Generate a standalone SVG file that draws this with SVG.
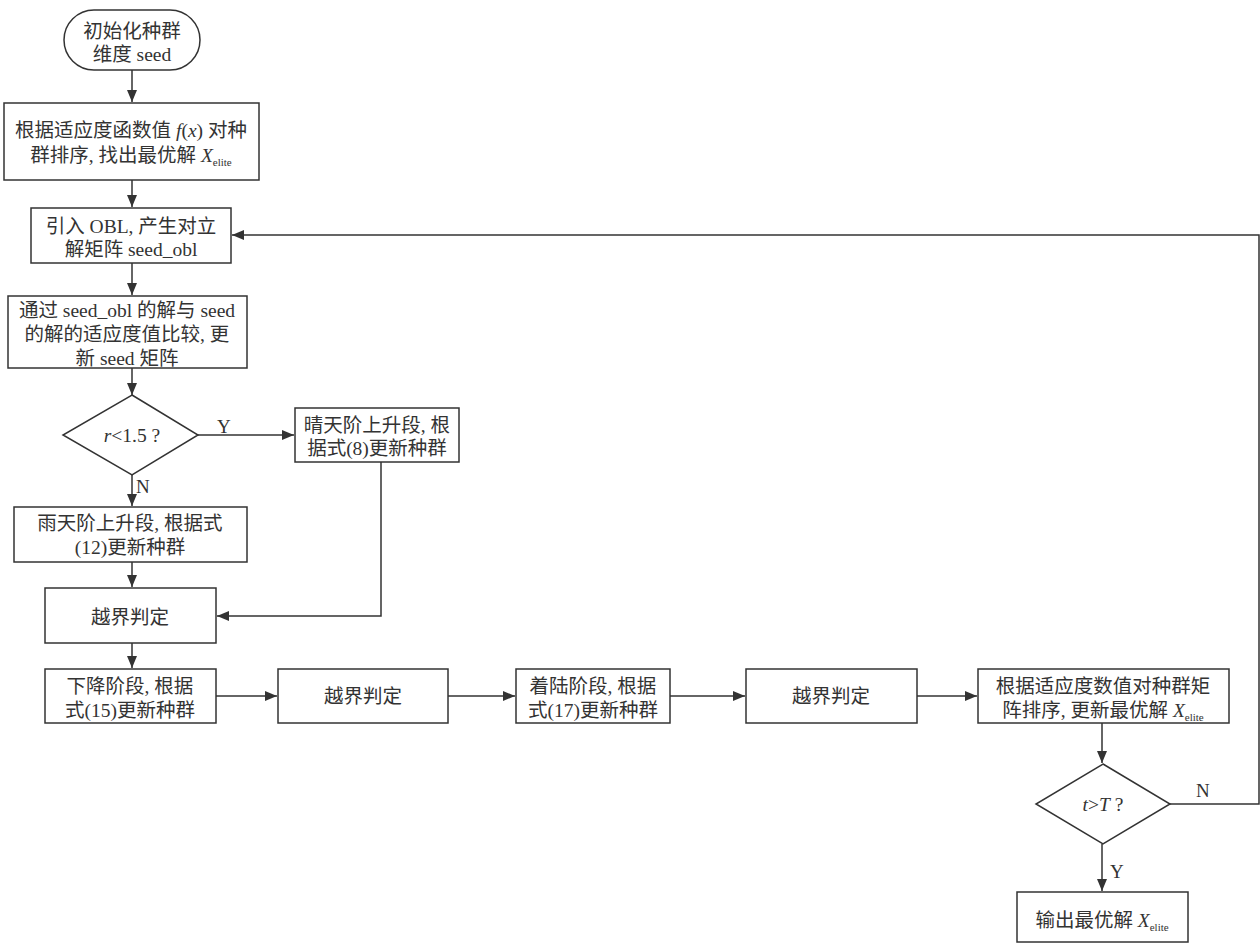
<svg xmlns="http://www.w3.org/2000/svg" width="1260" height="945" viewBox="0 0 1260 945">
<defs>
<marker id="ah" markerUnits="userSpaceOnUse" markerWidth="13" markerHeight="11" refX="12" refY="5" orient="auto">
<path d="M0,0 L12,5 L0,10 z" fill="#333"/>
</marker>
<style>
.n{fill:#fff;stroke:#333;stroke-width:1.5}
.t{font-family:"Liberation Serif","Noto Sans CJK SC",serif;font-size:19.5px;fill:#333;text-anchor:middle}
.l{font-family:"Liberation Serif",serif;font-size:19px;fill:#333}
.c{fill:none;stroke:#333;stroke-width:1.5}
.s{font-size:11px;font-style:normal}
</style>
</defs>
<rect width="1260" height="945" fill="#fff"/>
<g id="connectors">
<line class="c" x1="132" y1="70" x2="132" y2="102" marker-end="url(#ah)"/>
<line class="c" x1="132" y1="180" x2="132" y2="207" marker-end="url(#ah)"/>
<line class="c" x1="132" y1="263" x2="132" y2="295" marker-end="url(#ah)"/>
<line class="c" x1="132" y1="368" x2="132" y2="395" marker-end="url(#ah)"/>
<line class="c" x1="198" y1="435" x2="294" y2="435" marker-end="url(#ah)"/>
<line class="c" x1="132" y1="475" x2="132" y2="506" marker-end="url(#ah)"/>
<polyline class="c" points="381,462 381,616 217,616" marker-end="url(#ah)"/>
<line class="c" x1="132" y1="562" x2="132" y2="587" marker-end="url(#ah)"/>
<line class="c" x1="132" y1="643" x2="132" y2="668" marker-end="url(#ah)"/>
<line class="c" x1="216" y1="696" x2="277" y2="696" marker-end="url(#ah)"/>
<line class="c" x1="448" y1="696" x2="515" y2="696" marker-end="url(#ah)"/>
<line class="c" x1="670" y1="696" x2="745" y2="696" marker-end="url(#ah)"/>
<line class="c" x1="917" y1="696" x2="977" y2="696" marker-end="url(#ah)"/>
<line class="c" x1="1102" y1="723" x2="1102" y2="763" marker-end="url(#ah)"/>
<line class="c" x1="1102" y1="844" x2="1102" y2="891" marker-end="url(#ah)"/>
<polyline class="c" points="1170,804 1259,804 1259,235 232,235" marker-end="url(#ah)"/>
<text class="l" x="217" y="433">Y</text>
<text class="l" x="136" y="493">N</text>
<text class="l" x="1196" y="797">N</text>
<text class="l" x="1110" y="878">Y</text>
</g>
<g id="start">
<rect class="n" x="64" y="10" width="136" height="60" rx="30" ry="30"/>
<text class="t" x="132" y="38">初始化种群</text>
<text class="t" x="132" y="61">维度 seed</text>
</g>
<g id="sort1">
<rect class="n" x="4" y="103" width="255" height="77"/>
<text class="t" x="131" y="137">根据适应度函数值 <tspan font-style="italic">f</tspan>(<tspan font-style="italic">x</tspan>) 对种</text>
<text class="t" x="131" y="162">群排序, 找出最优解 <tspan font-style="italic">X</tspan><tspan class="s" dy="4">elite</tspan></text>
</g>
<g id="obl">
<rect class="n" x="31" y="208" width="200" height="55"/>
<text class="t" x="131" y="233">引入 OBL, 产生对立</text>
<text class="t" x="131" y="256">解矩阵 seed_obl</text>
</g>
<g id="compare">
<rect class="n" x="8" y="296" width="239" height="72"/>
<text class="t" x="127" y="317">通过 seed_obl 的解与 seed</text>
<text class="t" x="127" y="341">的解的适应度值比较, 更</text>
<text class="t" x="127" y="365">新 seed 矩阵</text>
</g>
<g id="dec1">
<polygon class="n" points="132,395 198,435 132,475 63,435"/>
<text class="t" x="132" y="442"><tspan font-style="italic">r</tspan>&lt;1.5 ?</text>
</g>
<g id="sunny">
<rect class="n" x="295" y="408" width="164" height="54"/>
<text class="t" x="377" y="432">晴天阶上升段, 根</text>
<text class="t" x="377" y="455">据式(8)更新种群</text>
</g>
<g id="rainy">
<rect class="n" x="14" y="507" width="233" height="55"/>
<text class="t" x="130" y="530">雨天阶上升段, 根据式</text>
<text class="t" x="130" y="554">(12)更新种群</text>
</g>
<g id="bound1">
<rect class="n" x="45" y="588" width="171" height="55"/>
<text class="t" x="130" y="624">越界判定</text>
</g>
<g id="descend">
<rect class="n" x="45" y="669" width="171" height="54"/>
<text class="t" x="130" y="693">下降阶段, 根据</text>
<text class="t" x="130" y="717">式(15)更新种群</text>
</g>
<g id="bound2">
<rect class="n" x="278" y="669" width="170" height="54"/>
<text class="t" x="363" y="703">越界判定</text>
</g>
<g id="landing">
<rect class="n" x="516" y="669" width="154" height="54"/>
<text class="t" x="593" y="693">着陆阶段, 根据</text>
<text class="t" x="593" y="717">式(17)更新种群</text>
</g>
<g id="bound3">
<rect class="n" x="746" y="669" width="171" height="54"/>
<text class="t" x="831" y="703">越界判定</text>
</g>
<g id="sort2">
<rect class="n" x="978" y="669" width="251" height="54"/>
<text class="t" x="1103" y="693">根据适应度数值对种群矩</text>
<text class="t" x="1103" y="717">阵排序, 更新最优解 <tspan font-style="italic">X</tspan><tspan class="s" dy="4">elite</tspan></text>
</g>
<g id="dec2">
<polygon class="n" points="1103,764 1170,804 1103,844 1036,804"/>
<text class="t" x="1103" y="811"><tspan font-style="italic">t</tspan>&gt;<tspan font-style="italic">T</tspan> ?</text>
</g>
<g id="output">
<rect class="n" x="1017" y="892" width="171" height="50"/>
<text class="t" x="1102" y="927">输出最优解 <tspan font-style="italic">X</tspan><tspan class="s" dy="4">elite</tspan></text>
</g>
</svg>
